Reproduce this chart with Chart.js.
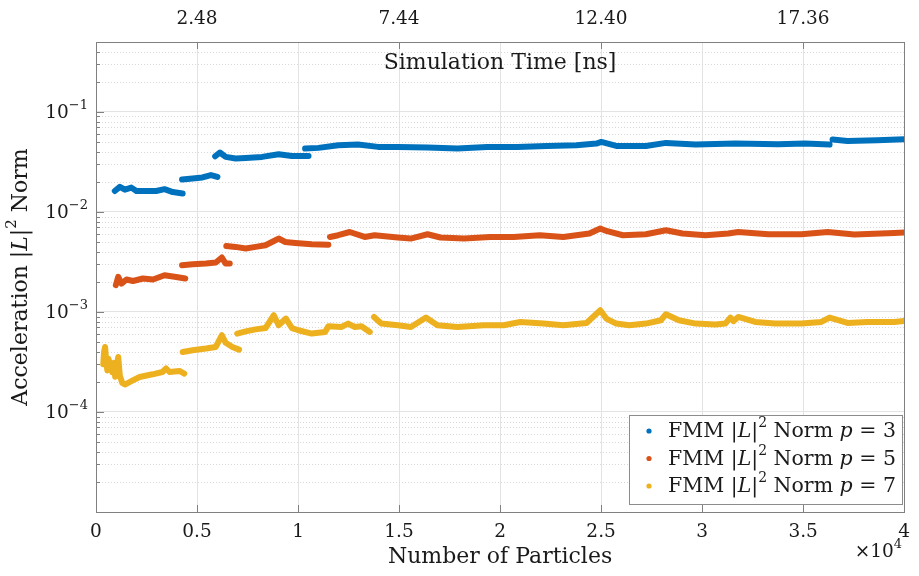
<!DOCTYPE html>
<html>
<head>
<meta charset="utf-8">
<script src="https://cdn.jsdelivr.net/npm/chart.js@4.4.1/dist/chart.umd.min.js"></script>
<style>
  html, body { margin: 0; padding: 0; background: #fff; }
  #wrap { width: 919px; height: 576px; }
</style>
</head>
<body>
<div id="wrap"><canvas id="chart" width="919" height="576"></canvas></div>
<script>
// Number of particles (x 10^4) vs acceleration |L|^2 norm.
// A null in the Y arrays breaks the curve where a new run starts.
const p3X = [0.093, 0.118, 0.143, 0.175, 0.200, 0.249, 0.298, 0.339, 0.380, 0.429, 0.43,
  0.426, 0.478, 0.527, 0.569, 0.601, 0.60,
  0.590, 0.613, 0.642, 0.691, 0.741, 0.822, 0.904, 0.970, 1.052, 1.05,
  1.035, 1.101, 1.199, 1.297, 1.396, 1.494, 1.641, 1.789, 1.936, 2.084, 2.231, 2.378, 2.477, 2.501,
  2.575, 2.722, 2.821, 2.968, 3.165, 3.376, 3.509, 3.631, 3.64,
  3.646, 3.720, 3.867, 4.0];
const p3Y = [0.0162, 0.0178, 0.0167, 0.0175, 0.0162, 0.0162, 0.0162, 0.0169, 0.0158, 0.0153, null,
  0.0211, 0.0216, 0.0221, 0.0234, 0.0224, null,
  0.0360, 0.0393, 0.0355, 0.0342, 0.0347, 0.0355, 0.0378, 0.0363, 0.0363, null,
  0.0430, 0.0437, 0.0465, 0.0472, 0.0447, 0.0447, 0.0440, 0.0430, 0.0447, 0.0447, 0.0457, 0.0465, 0.0483, 0.0501,
  0.0457, 0.0457, 0.0490, 0.0472, 0.0483, 0.0475, 0.0483, 0.0472, null,
  0.0530, 0.0513, 0.0520, 0.0533];

const p5X = [0.098, 0.110, 0.126, 0.151, 0.183, 0.232, 0.282, 0.339, 0.397, 0.442, 0.44,
  0.426, 0.478, 0.544, 0.593, 0.623, 0.642, 0.662, 0.66,
  0.645, 0.691, 0.741, 0.790, 0.839, 0.888, 0.904, 0.937, 0.986, 1.068, 1.150, 1.15,
  1.158, 1.199, 1.256, 1.330, 1.379, 1.494, 1.558, 1.641, 1.705, 1.822, 1.951, 2.067, 2.197, 2.313,
  2.442, 2.496, 2.526, 2.608, 2.722, 2.821, 2.903, 3.017, 3.130, 3.179, 3.327, 3.492, 3.622, 3.754,
  3.951, 4.0];
const p5Y = [0.00185, 0.00224, 0.00192, 0.00211, 0.00204, 0.00216, 0.00211, 0.00233, 0.00224, 0.00216, null,
  0.00293, 0.00300, 0.00305, 0.00312, 0.00350, 0.00305, 0.00305, null,
  0.00457, 0.00447, 0.00431, 0.00447, 0.00465, 0.00521, 0.00542, 0.00501, 0.00490, 0.00475, 0.00470, null,
  0.00562, 0.00585, 0.00630, 0.00562, 0.00585, 0.00555, 0.00542, 0.00598, 0.00555, 0.00542, 0.00562, 0.00562, 0.00585, 0.00562,
  0.00608, 0.00683, 0.00646, 0.00585, 0.00598, 0.00656, 0.00608, 0.00585, 0.00608, 0.00630, 0.00598, 0.00598, 0.00630, 0.00594,
  0.00617, 0.00622];

const p7X = [0.036, 0.040, 0.045, 0.050, 0.056, 0.062, 0.070, 0.080, 0.088, 0.095, 0.103, 0.110, 0.118, 0.130,
  0.143, 0.182, 0.216, 0.280, 0.329, 0.347, 0.364, 0.413, 0.437, 0.44,
  0.429, 0.478, 0.544, 0.593, 0.623, 0.642, 0.675, 0.708, 0.70,
  0.699, 0.741, 0.790, 0.839, 0.880, 0.904, 0.940, 0.970, 1.002, 1.068, 1.134, 1.150, 1.216, 1.248, 1.281,
  1.314, 1.355, 1.36,
  1.376, 1.412, 1.494, 1.559, 1.633, 1.690, 1.789, 1.920, 2.018, 2.100, 2.215, 2.313, 2.428, 2.496, 2.526,
  2.575, 2.639, 2.722, 2.796, 2.821, 2.885, 2.968, 3.066, 3.115, 3.140, 3.155, 3.179, 3.263, 3.361, 3.492,
  3.590, 3.631, 3.720, 3.818, 3.951, 4.0];
const p7Y = [3.0e-4, 4.0e-4, 4.47e-4, 3.3e-4, 2.6e-4, 3.4e-4, 2.9e-4, 2.5e-4, 3.1e-4, 2.25e-4, 2.9e-4, 3.55e-4, 2.3e-4, 1.95e-4,
  1.88e-4, 2.07e-4, 2.24e-4, 2.38e-4, 2.51e-4, 2.72e-4, 2.51e-4, 2.57e-4, 2.42e-4, null,
  3.98e-4, 4.14e-4, 4.31e-4, 4.47e-4, 5.85e-4, 4.92e-4, 4.47e-4, 4.2e-4, null,
  6.08e-4, 6.4e-4, 6.7e-4, 6.9e-4, 9.27e-4, 7.36e-4, 8.59e-4, 6.9e-4, 6.56e-4, 6.08e-4, 6.31e-4, 7.19e-4, 7.08e-4, 7.65e-4, 7.08e-4,
  7.19e-4, 6.31e-4, null,
  8.91e-4, 7.65e-4, 7.36e-4, 7.08e-4, 8.79e-4, 7.36e-4, 7.08e-4, 7.36e-4, 7.36e-4, 7.94e-4, 7.65e-4, 7.36e-4, 7.76e-4, 1.04e-3, 8.59e-4,
  7.65e-4, 7.36e-4, 7.65e-4, 8.26e-4, 9.48e-4, 8.26e-4, 7.65e-4, 7.48e-4, 7.65e-4, 8.79e-4, 8.1e-4, 8.91e-4, 7.94e-4, 7.65e-4, 7.65e-4,
  7.94e-4, 8.79e-4, 7.76e-4, 7.94e-4, 7.94e-4, 8.13e-4];

const seriesP = ['3', '5', '7'];
const seriesColors = ['#0072BD', '#D95319', '#EDB120'];

const xTicks = [0, 0.5, 1, 1.5, 2, 2.5, 3, 3.5, 4];
const xTickLabels = ['0', '0.5', '1', '1.5', '2', '2.5', '3', '3.5', '4'];
// top axis: simulation time at these particle counts
const timeTicks = [0.5, 1.5, 2.5, 3.5];
const timeTickLabels = ['2.48', '7.44', '12.40', '17.36'];
const yDecades = [1e-4, 1e-3, 1e-2, 1e-1];
const yDecadeExp = ['\u22124', '\u22123', '\u22122', '\u22121'];

const FONT = '"DejaVu Serif", "Liberation Serif", serif';
const TEXT = '#1a1a1a';
const AXIS = '#808080';

function pts(xs, ys) {
  return xs.map((x, i) => ({ x: x, y: ys[i] }));
}

// text pieces: [text, style] with style '' | 'i' (italic) | 's' (superscript)
function fontFor(s, size) {
  if (s === 'i') return 'italic ' + size + 'px ' + FONT;
  if (s === 's') return Math.round(size * 0.68) + 'px ' + FONT;
  return size + 'px ' + FONT;
}
function richWidth(ctx, runs, size) {
  let w = 0;
  for (const [t, s] of runs) {
    ctx.font = fontFor(s, size);
    w += ctx.measureText(t).width;
  }
  return w;
}
function drawRich(ctx, runs, x, y, size, align) {
  const w = richWidth(ctx, runs, size);
  let cx = align === 'center' ? x - w / 2 : align === 'right' ? x - w : x;
  ctx.textBaseline = 'middle';
  ctx.textAlign = 'left';
  for (const [t, s] of runs) {
    ctx.font = fontFor(s, size);
    ctx.fillText(t, cx, s === 's' ? y - size * 0.42 : y);
    cx += ctx.measureText(t).width;
  }
}

const matlabLook = {
  id: 'matlabLook',
  beforeDatasetsDraw(chart) {
    const { ctx, chartArea: a, scales: { y } } = chart;
    ctx.save();
    ctx.strokeStyle = '#d8d8d8';
    ctx.lineWidth = 1;
    ctx.setLineDash([1, 2]);
    for (let e = -5; e <= -1; e++) {
      for (let m = 2; m <= 9; m++) {
        const v = m * Math.pow(10, e);
        if (v > 0.5) continue;
        const py = Math.round(y.getPixelForValue(v)) + 0.5;
        ctx.beginPath();
        ctx.moveTo(a.left, py);
        ctx.lineTo(a.right, py);
        ctx.stroke();
      }
    }
    ctx.restore();
  },
  afterDatasetsDraw(chart) {
    const { ctx, chartArea: a, scales: { x, y } } = chart;
    ctx.save();
    // axes box
    ctx.strokeStyle = AXIS;
    ctx.lineWidth = 1;
    ctx.strokeRect(Math.round(a.left) + 0.5, Math.round(a.top) + 0.5,
      Math.round(a.right - a.left), Math.round(a.bottom - a.top));
    ctx.beginPath();
    // bottom ticks
    for (const v of xTicks) {
      const px = Math.round(x.getPixelForValue(v)) + 0.5;
      ctx.moveTo(px, a.bottom); ctx.lineTo(px, a.bottom - 7);
    }
    // top ticks (time axis)
    for (const v of timeTicks) {
      const px = Math.round(x.getPixelForValue(v)) + 0.5;
      ctx.moveTo(px, a.top); ctx.lineTo(px, a.top + 7);
    }
    // left ticks, major and minor
    for (let e = -5; e <= -1; e++) {
      for (let m = 1; m <= 9; m++) {
        const v = m * Math.pow(10, e);
        if (v > 0.5) continue;
        const py = Math.round(y.getPixelForValue(v)) + 0.5;
        ctx.moveTo(a.left, py); ctx.lineTo(a.left + (m === 1 ? 8 : 4), py);
      }
    }
    ctx.stroke();

    ctx.fillStyle = TEXT;
    // y tick labels 10^n
    yDecades.forEach((v, i) => {
      const py = y.getPixelForValue(v);
      drawRich(ctx, [['10', ''], [yDecadeExp[i], 's']], a.left - 8, py + 1, 18.5, 'right');
    });
    // top time labels
    timeTicks.forEach((v, i) => {
      drawRich(ctx, [[timeTickLabels[i], '']], x.getPixelForValue(v), 19, 18.5, 'center');
    });
    const cx = (a.left + a.right) / 2;
    drawRich(ctx, [['Simulation Time [ns]', '']], cx, a.top + 21, 22, 'center');
    drawRich(ctx, [['Number of Particles', '']], cx, 557, 22, 'center');
    drawRich(ctx, [['\u00d710', ''], ['4', 's']], a.right - 2, 552, 18.5, 'right');

    // y title
    ctx.save();
    ctx.translate(21, (a.top + a.bottom) / 2);
    ctx.rotate(-Math.PI / 2);
    drawRich(ctx, [['Acceleration |', ''], ['L', 'i'], ['|', ''], ['2', 's'], [' Norm', '']], 0, 0, 22, 'center');
    ctx.restore();

    // legend
    const lx = 629, ly = 415, lw = 273, lh = 89;
    ctx.fillStyle = '#fff';
    ctx.fillRect(lx, ly, lw, lh);
    ctx.strokeStyle = '#8c8c8c';
    ctx.strokeRect(lx + 0.5, ly + 0.5, lw, lh);
    seriesP.forEach((p, i) => {
      const ey = ly + 16 + i * 27.5;
      ctx.fillStyle = seriesColors[i];
      ctx.beginPath();
      ctx.arc(lx + 20, ey, 2.6, 0, Math.PI * 2);
      ctx.fill();
      ctx.fillStyle = TEXT;
      drawRich(ctx, [['FMM |', ''], ['L', 'i'], ['|', ''], ['2', 's'], [' Norm ', ''], ['p', 'i'], [' = ' + p, '']],
        lx + 39, ey + 1, 20.5, 'left');
    });
    ctx.restore();
  }
};

const datasets = [
  { label: 'FMM |L|^2 Norm p = 3', data: pts(p3X, p3Y) },
  { label: 'FMM |L|^2 Norm p = 5', data: pts(p5X, p5Y) },
  { label: 'FMM |L|^2 Norm p = 7', data: pts(p7X, p7Y) }
].map((d, i) => Object.assign(d, {
  borderColor: seriesColors[i],
  backgroundColor: seriesColors[i],
  borderWidth: 6,
  borderCapStyle: 'round',
  borderJoinStyle: 'round',
  pointRadius: 0,
  showLine: true,
  spanGaps: false,
  tension: 0
}));

new Chart(document.getElementById('chart').getContext('2d'), {
  type: 'scatter',
  data: { datasets: datasets },
  options: {
    responsive: false,
    animation: false,
    devicePixelRatio: 1,
    layout: { padding: { top: 42, right: 9, left: 0, bottom: 0 } },
    plugins: { legend: { display: false }, tooltip: { enabled: false } },
    scales: {
      x: {
        type: 'linear',
        min: 0,
        max: 4,
        afterBuildTicks: s => { s.ticks = xTicks.map(v => ({ value: v })); },
        afterFit: s => { s.height = 64; },
        ticks: {
          callback: (v, i) => xTickLabels[i],
          font: { family: FONT, size: 18.5 },
          color: TEXT,
          padding: 9,
          maxRotation: 0,
          autoSkip: false
        },
        grid: { color: '#e3e3e3', drawTicks: false },
        border: { display: false }
      },
      y: {
        type: 'logarithmic',
        min: 1e-5,
        max: 0.5,
        afterBuildTicks: s => { s.ticks = yDecades.map(v => ({ value: v })); },
        afterFit: s => { s.width = 96; },
        ticks: { display: false },
        grid: { color: '#e3e3e3', drawTicks: false },
        border: { display: false }
      }
    }
  },
  plugins: [matlabLook]
});
</script>
</body>
</html>
